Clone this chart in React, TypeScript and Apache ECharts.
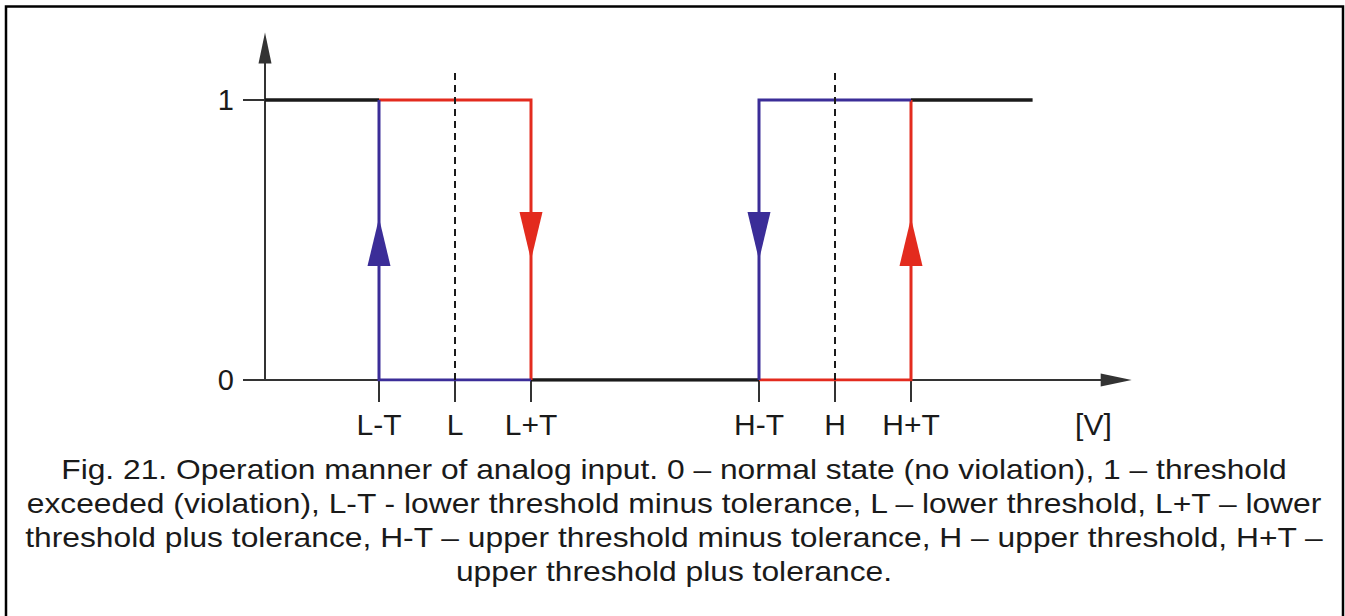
import React, { useEffect, useRef } from "react";
import * as echarts from "echarts";

// x positions (in volts-like units) of the thresholds
const tickPositions = [1.5, 2.5, 3.5, 6.5, 7.5, 8.5];
const tickLabels = ["L-T", "L", "L+T", "H-T", "H", "H+T"];
const unitLabelPos = 10.9;
const unitLabel = "[V]";

// state lines (x, state)
const blackHighLeft = [[0, 1], [1.5, 1]];
const blackHighRight = [[8.5, 1], [10.1, 1]];
const blackLow = [[3.5, 0], [6.5, 0]];
const redLower = [[1.5, 1], [3.5, 1], [3.5, 0]];
const redUpper = [[6.5, 0], [8.5, 0], [8.5, 1]];
const blueLower = [[3.5, 0], [1.5, 0], [1.5, 1]];
const blueUpper = [[8.5, 1], [6.5, 1], [6.5, 0]];
const dashedL = [[2.5, 0], [2.5, 1.107]];
const dashedH = [[7.5, 0], [7.5, 1.107]];

// direction arrows
const blueUpArrows = [[1.5, 0.493]];
const blueDownArrows = [[6.5, 0.514]];
const redUpArrows = [[8.5, 0.493]];
const redDownArrows = [[3.5, 0.514]];

const captionLines = [
  "Fig. 21. Operation manner of analog input. 0 \u2013 normal state (no violation), 1 \u2013 threshold",
  "exceeded (violation), L-T - lower threshold minus tolerance, L \u2013 lower threshold, L+T \u2013 lower",
  "threshold plus tolerance, H-T \u2013 upper threshold minus tolerance, H \u2013 upper threshold, H+T \u2013",
  "upper threshold plus tolerance.",
];

const BLUE = "#3b2d98";
const RED = "#e32b1e";
const BLACK = "#1a1a1a";
const FONT = "Liberation Sans, Arial, sans-serif";

export default function App() {
  const ref = useRef<HTMLDivElement>(null);
  useEffect(() => {
    if (!ref.current) return;
    const chart = echarts.init(ref.current, undefined, { renderer: "svg" });

    const lineSeries = (data: number[][], color: string, width: number, z: number, dashed = false) => ({
      type: "line",
      data,
      symbol: "none",
      z,
      lineStyle: { color, width, type: dashed ? [7, 5] : "solid", cap: "butt", join: "miter" },
      silent: true,
    });
    const arrowSeries = (data: number[][], color: string, rotate: number) => ({
      type: "scatter",
      data,
      symbol: "triangle",
      symbolSize: [23, 48],
      symbolRotate: rotate,
      itemStyle: { color, opacity: 1 },
      z: 6,
      silent: true,
    });

    chart.setOption({
      animation: false,
      backgroundColor: "#ffffff",
      grid: { left: 265, top: 48, width: 851.2, height: 332, containLabel: false },
      xAxis: {
        type: "value",
        min: 0,
        max: 11.2,
        axisLine: {
          show: true,
          lineStyle: { color: "#333333", width: 2 },
          symbol: ["none", "triangle"],
          symbolSize: [13, 31],
        },
        axisTick: { show: true, length: 22, customValues: tickPositions, lineStyle: { color: "#333333", width: 2 } },
        axisLabel: {
          show: true,
          customValues: [...tickPositions, unitLabelPos],
          margin: 29,
          fontSize: 30,
          fontFamily: FONT,
          color: BLACK,
          formatter: (v: number) => {
            const i = tickPositions.indexOf(v);
            return i >= 0 ? tickLabels[i] : unitLabel;
          },
        },
        splitLine: { show: false },
      },
      yAxis: {
        type: "value",
        min: 0,
        max: 332 / 280,
        interval: 1,
        axisLine: {
          show: true,
          lineStyle: { color: "#333333", width: 2 },
          symbol: ["none", "triangle"],
          symbolSize: [13, 31],
        },
        axisTick: { show: true, length: 22, lineStyle: { color: "#333333", width: 2 } },
        axisLabel: {
          show: true,
          margin: 31,
          fontSize: 29,
          fontFamily: FONT,
          color: BLACK,
          showMaxLabel: false,
          formatter: (v: number) => (v === 0 || v === 1 ? String(v) : ""),
        },
        splitLine: { show: false },
      },
      series: [
        lineSeries(blackHighLeft, BLACK, 3.5, 3),
        lineSeries(blackHighRight, BLACK, 3.5, 3),
        lineSeries(blackLow, BLACK, 3.5, 3),
        lineSeries(redLower, RED, 3, 3),
        lineSeries(redUpper, RED, 3, 3),
        lineSeries(blueLower, BLUE, 3, 4),
        lineSeries(blueUpper, BLUE, 3, 4),
        lineSeries(dashedL, BLACK, 2, 5, true),
        lineSeries(dashedH, BLACK, 2, 5, true),
        arrowSeries(blueUpArrows, BLUE, 0),
        arrowSeries(blueDownArrows, BLUE, 180),
        arrowSeries(redUpArrows, RED, 0),
        arrowSeries(redDownArrows, RED, 180),
      ],
      graphic: [
        {
          type: "rect",
          shape: { x: 6, y: 6.5, width: 1337, height: 640 },
          style: { fill: "none", stroke: "#000000", lineWidth: 2.5 },
          silent: true,
        },
        ...captionLines.map((t, i) => ({
          type: "text",
          x: 674,
          y: 469 + i * 34,
          scaleX: 1.135,
          style: {
            text: t,
            fontSize: 28,
            fontFamily: FONT,
            fill: BLACK,
            align: "center",
            verticalAlign: "middle",
          },
          silent: true,
        })),
      ],
    });
    return () => chart.dispose();
  }, []);
  return (
    <div
      ref={ref}
      style={{ position: "fixed", left: 0, top: 0, width: 1345, height: 616, background: "#fff" }}
    />
  );
}
